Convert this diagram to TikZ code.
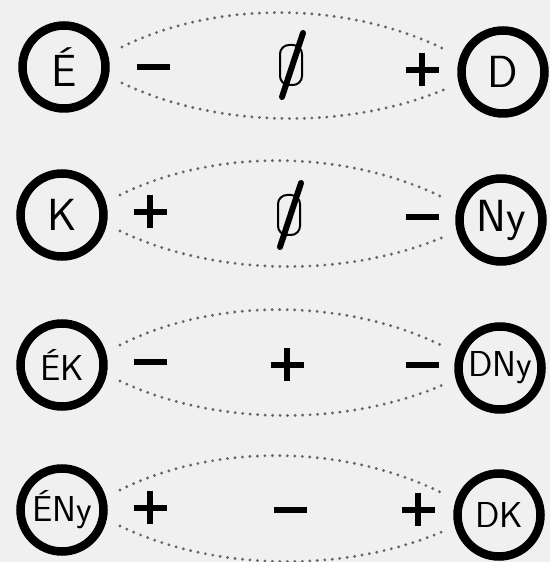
\documentclass[tikz,border=0pt]{standalone}
\usetikzlibrary{calc}

\tikzset{
  irany/.style={circle, draw, line width=8.5pt, minimum size=83pt, inner sep=0pt,
    font=\sffamily\fontsize{45}{45}\selectfont},
  kicsi/.style={font=\sffamily\fontsize{36}{36}\selectfont},
  pontozott/.style={black!60, line width=3.2pt, line cap=round, dash pattern=on 0pt off 7.5pt},
  plussign/.pic={\draw[line width=6.5pt] (-16.5,0) -- (16.5,0) (0,-16.5) -- (0,16.5);},
  minussign/.pic={\draw[line width=6.5pt] (-16.5,0) -- (16.5,0);},
  nullsign/.pic={
    \draw[line width=2pt, rounded corners=9pt] (-11,-20) rectangle (11,20);
    \draw[line width=6pt, line cap=round] (-9,-32) -- (12,32);}
}

\begin{document}
\begin{tikzpicture}[x=1pt, y=1pt]
  % Hatter
  \fill[black!6] (0,0) rectangle (550,562);
  \useasboundingbox (0,0) rectangle (550,562);
  % Iranyok
  \node[irany] (E) at (64,495) {É};
  \node[irany] (D) at (503,490) {D};
  \node[irany] (K) at (62,347) {K};
  \node[irany] (Ny) at (501,342) {Ny};
  \node[irany, kicsi] (EK) at (62,197) {ÉK};
  \node[irany, kicsi] (DNy) at (500,194) {DNy};
  \node[irany, kicsi] (ENy) at (62,52) {ÉNy};
  \node[irany, kicsi] (DK) at (499,47) {DK};
  % Pontozott ivek
  \foreach \l/\r in {E/D, K/Ny, EK/DNy, ENy/DK} {
    \draw[pontozott] ($(\l)+(58,20)$) .. controls ($(\l)!0.35!(\r)+(0,69)$) and ($(\l)!0.65!(\r)+(0,69)$) .. ($(\r)+(-55,21)$);
    \draw[pontozott] ($(\l)+(58,-16)$) .. controls ($(\l)!0.35!(\r)+(0,-60)$) and ($(\l)!0.65!(\r)+(0,-60)$) .. ($(\r)+(-55,-16)$);
  }
  % Elojelek
  \pic at (153,495) {minussign};
  \pic at (291,497) {nullsign};
  \pic at (422,492) {plussign};
  \pic at (150,350) {plussign};
  \pic at (289,347) {nullsign};
  \pic at (422,345) {minussign};
  \pic at (150,200) {minussign};
  \pic at (287,197) {plussign};
  \pic at (422,197) {minussign};
  \pic at (150,54) {plussign};
  \pic at (290,52) {minussign};
  \pic at (418,52) {plussign};
\end{tikzpicture}
\end{document}
